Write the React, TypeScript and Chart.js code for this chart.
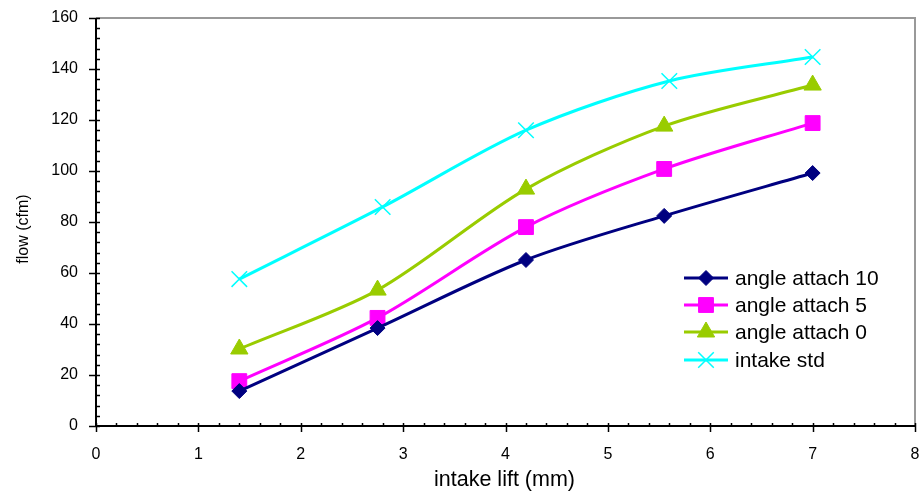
import React, { useEffect, useRef } from "react";
import { Chart, registerables } from "chart.js";
import { drawPoint } from "chart.js/helpers";

Chart.register(...registerables);

// ---- data ----
const liftA = [1.4, 2.75, 4.2, 5.55, 7];
const liftStd = [1.4, 2.8, 4.2, 5.6, 7];
const angle10 = [13.7, 38.4, 65.1, 82.4, 99.2];
const angle5 = [17.6, 42.4, 78.0, 100.8, 118.8];
const angle0 = [30.2, 53.3, 92.9, 117.6, 133.7];
const intakeStd = [57.6, 85.9, 116.0, 135.3, 144.7];

const seriesLabels = ["angle attach 10", "angle attach 5", "angle attach 0", "intake std"];
const xTitle = "intake lift (mm)";
const yTitle = "flow (cfm)";

const FONT = "'Liberation Sans', Arial, sans-serif";

const pairs = (xs: number[], ys: number[]) => xs.map((x, i) => ({ x, y: ys[i] }));

const decorPlugin = {
  id: "decor",
  afterDraw(chart: any) {
    const { ctx, chartArea: a, scales } = chart;
    const xs = scales.x;
    const ys = scales.y;
    ctx.save();
    // gray frame top/right
    ctx.strokeStyle = "#999999";
    ctx.lineWidth = 2;
    ctx.beginPath();
    ctx.moveTo(a.left, a.top);
    ctx.lineTo(a.right, a.top);
    ctx.lineTo(a.right, a.bottom);
    ctx.stroke();
    // axes
    ctx.strokeStyle = "#000000";
    ctx.lineWidth = 2;
    ctx.beginPath();
    ctx.moveTo(a.left, a.top);
    ctx.lineTo(a.left, a.bottom);
    ctx.lineTo(a.right, a.bottom);
    ctx.stroke();
    ctx.lineWidth = 1.5;
    // x ticks
    for (let i = 0; i <= 40; i++) {
      const v = i * 0.2;
      const px = Math.round(xs.getPixelForValue(v)) + 0.5;
      ctx.beginPath();
      if (i % 5 === 0) {
        ctx.moveTo(px, a.bottom - 3);
        ctx.lineTo(px, a.bottom + 6);
      } else {
        ctx.moveTo(px, a.bottom - 3);
        ctx.lineTo(px, a.bottom);
      }
      ctx.stroke();
    }
    // y ticks
    for (let i = 0; i <= 40; i++) {
      const v = i * 4;
      const py = Math.round(ys.getPixelForValue(v)) + 0.5;
      ctx.beginPath();
      if (i % 5 === 0) {
        ctx.moveTo(a.left - 7, py);
        ctx.lineTo(a.left + 4, py);
      } else {
        ctx.moveTo(a.left, py);
        ctx.lineTo(a.left + 4, py);
      }
      ctx.stroke();
    }
    // axis titles
    ctx.fillStyle = "#000000";
    ctx.font = `21.5px ${FONT}`;
    ctx.textAlign = "center";
    ctx.textBaseline = "alphabetic";
    ctx.fillText(xTitle, (a.left + a.right) / 2 - 1, 486);
    ctx.save();
    ctx.translate(28, 229);
    ctx.rotate(-Math.PI / 2);
    ctx.font = `16px ${FONT}`;
    ctx.fillText(yTitle, 0, 0);
    ctx.restore();

    // legend
    const rows = [278, 305, 332, 360];
    chart.data.datasets.forEach((ds: any, i: number) => {
      const y = rows[i];
      ctx.strokeStyle = ds.borderColor;
      ctx.lineWidth = ds.borderWidth;
      ctx.beginPath();
      ctx.moveTo(684, y);
      ctx.lineTo(728, y);
      ctx.stroke();
      ctx.fillStyle = ds.pointBackgroundColor;
      ctx.strokeStyle = ds.pointBorderColor;
      ctx.lineWidth = ds.pointBorderWidth;
      drawPoint(ctx, { pointStyle: ds.pointStyle, radius: ds.pointRadius, rotation: 0, borderWidth: ds.pointBorderWidth }, 706, y);
      ctx.fillStyle = "#000000";
      ctx.font = `21px ${FONT}`;
      ctx.textAlign = "left";
      ctx.textBaseline = "middle";
      ctx.fillText(ds.label, 735, y + 1);
    });
    ctx.restore();
  },
};

const zeroPad = (s: any) => {
  s.paddingLeft = 0;
  s.paddingRight = 0;
  s.paddingTop = 0;
  s.paddingBottom = 0;
};

export default function App() {
  const ref = useRef<HTMLCanvasElement | null>(null);
  useEffect(() => {
    document.body.style.margin = "0";
    if (!ref.current) return;
    const mk = (label: string, xs: number[], ys: number[], color: string, style: string, r: number, bw: number) => ({
      label,
      data: pairs(xs, ys),
      borderColor: color,
      backgroundColor: color,
      borderWidth: 3,
      pointStyle: style,
      pointRadius: r,
      pointHoverRadius: r,
      pointBackgroundColor: color,
      pointBorderColor: color,
      pointBorderWidth: bw,
      tension: 0.3,
      fill: false,
    });
    const chart = new Chart(ref.current, {
      type: "line",
      data: {
        datasets: [
          mk(seriesLabels[0], liftA, angle10, "#000080", "rectRot", 7.5, 1),
          mk(seriesLabels[1], liftA, angle5, "#FF00FF", "rect", 10.5, 1),
          mk(seriesLabels[2], liftA, angle0, "#99CC00", "triangle", 10, 1),
          mk(seriesLabels[3], liftStd, intakeStd, "#00FFFF", "crossRot", 11, 1.5),
        ] as any,
      },
      options: {
        animation: false,
        responsive: true,
        maintainAspectRatio: false,
        layout: { autoPadding: false, padding: { top: 18, right: 5, left: 0, bottom: 0 } },
        plugins: { legend: { display: false }, tooltip: { enabled: false } },
        scales: {
          x: {
            type: "linear",
            min: 0,
            max: 8,
            grid: { display: false, drawTicks: false },
            border: { display: false },
            ticks: { stepSize: 1, padding: 19, color: "#000", font: { family: FONT, size: 16 } },
            afterFit: (s: any) => { s.height = 69; zeroPad(s); },
          },
          y: {
            min: 0,
            max: 160,
            grid: { display: false, drawTicks: false },
            border: { display: false },
            ticks: { stepSize: 20, padding: 18, color: "#000", font: { family: FONT, size: 16 } },
            afterFit: (s: any) => { s.width = 96; zeroPad(s); },
          },
        },
      } as any,
      plugins: [decorPlugin],
    });
    return () => chart.destroy();
  }, []);
  return (
    <div style={{ width: 920, height: 495, position: "relative", background: "#fff" }}>
      <canvas ref={ref} />
    </div>
  );
}
